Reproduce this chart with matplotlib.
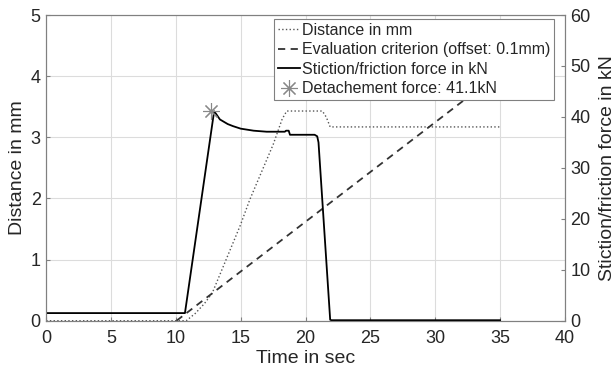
import matplotlib.pyplot as plt

plt.rcParams['font.family'] = ['Liberation Sans', 'DejaVu Sans']

# distance (left axis, mm)
t_dist = [0, 10.8, 11.5, 12.2, 12.8, 14.95, 15.7, 17.5, 18.2, 18.55, 21.3, 21.6, 21.9, 35]
dist = [0, 0, 0.12, 0.28, 0.45, 1.55, 1.98, 2.88, 3.30, 3.43, 3.43, 3.33, 3.17, 3.17]

# evaluation criterion (left axis, mm)
t_crit = [10.05, 35]
crit = [0, 4.06]

# stiction/friction force (right axis, kN)
t_force = [0, 10.7, 12.95, 13.1, 13.4, 14.0, 14.4, 15.0, 16.0, 17.0, 18.4, 18.5, 18.7,
           18.8, 20.7, 20.9, 21.0, 21.9, 22.0, 35]
force = [1.5, 1.5, 41.1, 40.6, 39.5, 38.6, 38.2, 37.7, 37.3, 37.1, 37.1, 37.3, 37.3,
         36.5, 36.5, 36.2, 35.0, 0.2, 0.1, 0.1]

peak_t = 12.7
peak_f = 41.1

txt = '#262626'
fig = plt.figure(figsize=(6.16, 3.76), dpi=100)
ax = fig.add_axes([0.075, 0.147, 0.842, 0.813])
ax2 = ax.twinx()

l1, = ax.plot(t_dist, dist, color='#555555', lw=1.0, ls=':')
l2, = ax.plot(t_crit, crit, color='#333333', lw=1.3, ls=(0, (4, 3)))
l3, = ax2.plot(t_force, force, color='black', lw=1.3)
l4, = ax2.plot([peak_t], [peak_f], ls='none', marker=(8, 2, 0), color='#888888',
               markersize=12, markeredgewidth=0.8)

ax.set_xlim(0, 40)
ax.set_ylim(0, 5)
ax2.set_ylim(0, 60)
ax.set_xticks(range(0, 41, 5))
ax.set_yticks(range(0, 6))
ax2.set_yticks(range(0, 61, 10))
ax.grid(True, color='#dcdcdc', lw=0.8)
ax.set_axisbelow(True)

for a in (ax, ax2):
    for s in a.spines.values():
        s.set_color('#808080')
    a.tick_params(direction='in', length=3, color='#808080', labelcolor=txt, labelsize=13)
ax.tick_params(axis='x', pad=7)
ax.tick_params(axis='y', pad=4)
ax2.tick_params(axis='y', pad=4)

ax.set_xlabel('Time in sec', fontsize=14, color=txt, labelpad=2)
ax.set_ylabel('Distance in mm', fontsize=14, color=txt, labelpad=3)
ax2.set_ylabel('Stiction/friction force in kN', fontsize=14, color=txt, labelpad=6)

leg = ax2.legend([l1, l2, l3, l4],
                 ['Distance in mm', 'Evaluation criterion (offset: 0.1mm)',
                  'Stiction/friction force in kN', 'Detachement force: 41.1kN'],
                 loc='upper right', bbox_to_anchor=(0.98, 0.987), fontsize=11.5,
                 frameon=True, fancybox=False, edgecolor='#808080', framealpha=1,
                 handlelength=1.35, handletextpad=0.15, borderpad=0.25, labelspacing=0.28,
                 borderaxespad=0)
leg.get_frame().set_linewidth(0.8)
for t in leg.get_texts():
    t.set_color(txt)

fig.savefig('out.png', dpi=100)
